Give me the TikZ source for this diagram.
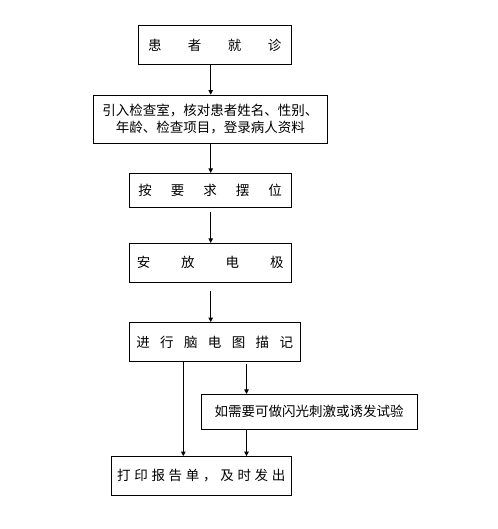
\documentclass[tikz,border=0pt]{standalone}
\usepackage{fontspec}
\setmainfont{Noto Sans CJK SC}
\usetikzlibrary{arrows.meta}
\begin{document}
\begin{tikzpicture}[x=1pt,y=-1pt,
  box/.style={draw,line width=0.8pt,inner sep=0pt,anchor=center,align=center,
    font=\fontsize{13.5}{17}\selectfont},
  arr/.style={line width=0.8pt,-{Triangle[width=4.5pt,length=4.5pt]}}]
\useasboundingbox (0,0) rectangle (497,529);
\fill[white] (0,0) rectangle (497,529);
\node[box,minimum width=152.7pt,minimum height=38.6pt] (b1) at (214.7,45)
  {患\hspace{26.4pt}者\hspace{26.4pt}就\hspace{26.4pt}诊};
\node[box,minimum width=234pt,minimum height=48.5pt] (b2) at (210.3,119.25)
  {引入检查室，核对患者姓名、性别、\\年龄、检查项目，登录病人资料};
\node[box,minimum width=161.7pt,minimum height=34pt] (b3) at (210.2,190.3)
  {按\hspace{19pt}要\hspace{19pt}求\hspace{19pt}摆\hspace{19pt}位};
\node[box,minimum width=161.7pt,minimum height=39pt] (b4) at (210.2,262.8)
  {安\hspace{30.9pt}放\hspace{30.9pt}电\hspace{30.9pt}极};
\node[box,minimum width=170.7pt,minimum height=39pt] (b5) at (214.7,342)
  {进\hspace{10.4pt}行\hspace{10.4pt}脑\hspace{10.4pt}电\hspace{10.4pt}图\hspace{10.4pt}描\hspace{10.4pt}记};
\node[box,minimum width=216.3pt,minimum height=34.7pt] (b6) at (309.2,411.7)
  {如需要可做闪光刺激或诱发试验};
\node[box,minimum width=179.3pt,minimum height=39pt] (b7) at (201.3,476)
  {打\hspace{3.7pt}印\hspace{3.7pt}报\hspace{3.7pt}告\hspace{3.7pt}单\hspace{3.7pt}，\hspace{3.7pt}及\hspace{3.7pt}时\hspace{3.7pt}发\hspace{3.7pt}出};
\coordinate (cx) at (210.7,0);
\coordinate (lx) at (183.3,0);
\coordinate (rx) at (246.5,0);
\draw[arr] (b1.south -| cx) -- (b2.north -| cx);
\draw[arr] (b2.south -| cx) -- (b3.north -| cx);
\draw[arr,shorten <=4pt] (b3.south -| cx) -- (b4.north -| cx);
\draw[arr,shorten <=8pt] (b4.south -| cx) -- (b5.north -| cx);
\draw[arr] (b5.south -| lx) -- (b7.north -| lx);
\draw[arr,shorten <=2pt] (b5.south -| rx) -- (b6.north -| rx);
\draw[arr] (b6.south -| rx) -- (b7.north -| rx);
\end{tikzpicture}
\end{document}
